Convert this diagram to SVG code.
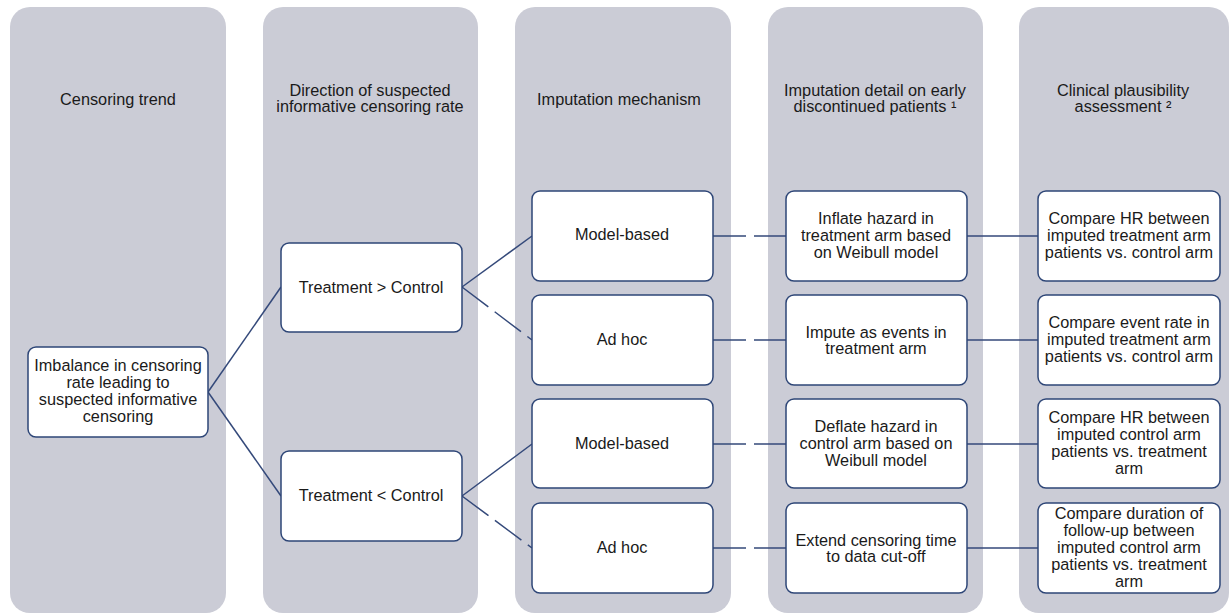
<svg xmlns="http://www.w3.org/2000/svg" width="1230" height="615" viewBox="0 0 1230 615">
<style>
.panel{fill:#cbccd6;}
.node{fill:#ffffff;stroke:#2e4677;stroke-width:1.5;}
.t{font-family:"Liberation Sans",Arial,sans-serif;font-size:16.3px;fill:#1a1a1a;text-anchor:middle;}
.c{fill:none;stroke:#34497a;stroke-width:1.5;}
.d{fill:none;stroke:#34497a;stroke-width:1.5;stroke-dasharray:33 8;}
</style>
<rect width="1230" height="615" fill="#ffffff"/>
<g id="panels">
<rect class="panel" x="10" y="7" width="216" height="606" rx="20"/>
<rect class="panel" x="263" y="7" width="215" height="606" rx="20"/>
<rect class="panel" x="515" y="7" width="216" height="606" rx="20"/>
<rect class="panel" x="768" y="7" width="215" height="606" rx="20"/>
<rect class="panel" x="1019" y="7" width="210" height="606" rx="20"/>
</g>
<g id="headers">
<text class="t" x="118" y="105">Censoring trend</text>
<text class="t" x="370" y="96">Direction of suspected</text>
<text class="t" x="370" y="112">informative censoring rate</text>
<text class="t" x="619" y="105">Imputation mechanism</text>
<text class="t" x="875" y="96">Imputation detail on early</text>
<text class="t" x="875" y="112">discontinued patients ¹</text>
<text class="t" x="1123" y="96">Clinical plausibility</text>
<text class="t" x="1123" y="112">assessment ²</text>
</g>
<g id="connectors">
<line class="c" x1="208" y1="392" x2="281" y2="287"/>
<line class="c" x1="208" y1="392" x2="281" y2="496"/>
<line class="c" x1="462" y1="287" x2="532" y2="236"/>
<line class="d" x1="462" y1="287" x2="532" y2="340"/>
<line class="c" x1="462" y1="496" x2="532" y2="444"/>
<line class="d" x1="462" y1="496" x2="532" y2="548"/>
<line class="d" x1="713" y1="236" x2="786" y2="236"/>
<line class="d" x1="713" y1="340" x2="786" y2="340"/>
<line class="d" x1="713" y1="444" x2="786" y2="444"/>
<line class="d" x1="713" y1="548" x2="786" y2="548"/>
<line class="c" x1="967" y1="236" x2="1038" y2="236"/>
<line class="c" x1="967" y1="340" x2="1038" y2="340"/>
<line class="c" x1="967" y1="444" x2="1038" y2="444"/>
<line class="c" x1="967" y1="548" x2="1038" y2="548"/>
</g>
<g id="n-imbalance">
<rect class="node" x="28" y="347" width="180" height="90" rx="8"/>
<text class="t" x="118" y="371">Imbalance in censoring</text>
<text class="t" x="118" y="388">rate leading to</text>
<text class="t" x="118" y="405">suspected informative</text>
<text class="t" x="118" y="422">censoring</text>
</g>
<g id="n-tgc">
<rect class="node" x="281" y="243" width="181" height="89" rx="8"/>
<text class="t" x="371" y="293">Treatment &gt; Control</text>
</g>
<g id="n-tlc">
<rect class="node" x="281" y="451" width="181" height="90" rx="8"/>
<text class="t" x="371" y="501">Treatment &lt; Control</text>
</g>
<g id="n-mb1">
<rect class="node" x="532" y="191" width="181" height="90" rx="8"/>
<text class="t" x="622" y="240">Model-based</text>
</g>
<g id="n-ah1">
<rect class="node" x="532" y="295" width="181" height="90" rx="8"/>
<text class="t" x="622" y="345">Ad hoc</text>
</g>
<g id="n-mb2">
<rect class="node" x="532" y="399" width="181" height="89" rx="8"/>
<text class="t" x="622" y="449">Model-based</text>
</g>
<g id="n-ah2">
<rect class="node" x="532" y="503" width="181" height="90" rx="8"/>
<text class="t" x="622" y="553">Ad hoc</text>
</g>
<g id="n-inflate">
<rect class="node" x="786" y="191" width="181" height="90" rx="8"/>
<text class="t" x="876" y="224">Inflate hazard in</text>
<text class="t" x="876" y="241">treatment arm based</text>
<text class="t" x="876" y="258">on Weibull model</text>
</g>
<g id="n-impute">
<rect class="node" x="786" y="295" width="181" height="90" rx="8"/>
<text class="t" x="876" y="338">Impute as events in</text>
<text class="t" x="876" y="354">treatment arm</text>
</g>
<g id="n-deflate">
<rect class="node" x="786" y="399" width="181" height="89" rx="8"/>
<text class="t" x="876" y="432">Deflate hazard in</text>
<text class="t" x="876" y="449">control arm based on</text>
<text class="t" x="876" y="466">Weibull model</text>
</g>
<g id="n-extend">
<rect class="node" x="786" y="503" width="181" height="90" rx="8"/>
<text class="t" x="876" y="546">Extend censoring time</text>
<text class="t" x="876" y="562">to data cut-off</text>
</g>
<g id="n-hr1">
<rect class="node" x="1038" y="191" width="182" height="90" rx="8"/>
<text class="t" x="1129" y="224">Compare HR between</text>
<text class="t" x="1129" y="241">imputed treatment arm</text>
<text class="t" x="1129" y="258">patients vs. control arm</text>
</g>
<g id="n-er">
<rect class="node" x="1038" y="295" width="182" height="90" rx="8"/>
<text class="t" x="1129" y="328">Compare event rate in</text>
<text class="t" x="1129" y="345">imputed treatment arm</text>
<text class="t" x="1129" y="362">patients vs. control arm</text>
</g>
<g id="n-hr2">
<rect class="node" x="1038" y="399" width="182" height="89" rx="8"/>
<text class="t" x="1129" y="423">Compare HR between</text>
<text class="t" x="1129" y="440">imputed control arm</text>
<text class="t" x="1129" y="457">patients vs. treatment</text>
<text class="t" x="1129" y="474">arm</text>
</g>
<g id="n-dur">
<rect class="node" x="1038" y="503" width="182" height="90" rx="8"/>
<text class="t" x="1129" y="519">Compare duration of</text>
<text class="t" x="1129" y="536">follow-up between</text>
<text class="t" x="1129" y="553">imputed control arm</text>
<text class="t" x="1129" y="570">patients vs. treatment</text>
<text class="t" x="1129" y="587">arm</text>
</g>
</svg>
